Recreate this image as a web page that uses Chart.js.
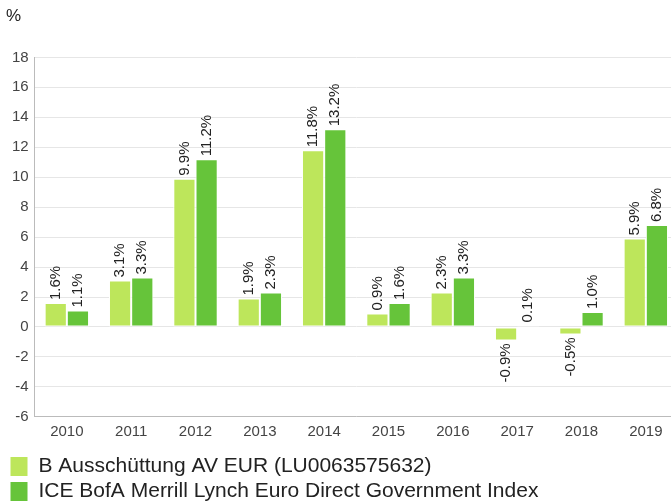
<!DOCTYPE html>
<html>
<head>
    <script src="https://cdn.jsdelivr.net/npm/chart.js"></script>
    <style>
        html, body { margin: 0; padding: 0; overflow: hidden; background: #fff; }
        .chart-container { width: 678px; height: 512px; position: relative; }
    </style>
</head>
<body>
    <div class="chart-container">
        <canvas id="perfChart"></canvas>
    </div>
    <script>
        // Jahre und Werte (in %)
        const years = ['2010', '2011', '2012', '2013', '2014', '2015', '2016', '2017', '2018', '2019'];
        const fundValues = [1.6, 3.1, 9.9, 1.9, 11.8, 0.9, 2.3, -0.9, -0.5, 5.9];
        const indexValues = [1.1, 3.3, 11.2, 2.3, 13.2, 1.6, 3.3, 0.1, 1.0, 6.8];
        const seriesNames = ['B Ausschüttung AV EUR (LU0063575632)', 'ICE BofA Merrill Lynch Euro Direct Government Index'];

        const fontFamily = '"Liberation Sans", Arial, sans-serif';

        // Beschriftung der Balken (senkrecht)
        const barLabels = {
            id: 'barLabels',
            afterDatasetsDraw(chart) {
                const ctx = chart.ctx;
                ctx.save();
                ctx.font = '15px ' + fontFamily;
                ctx.fillStyle = '#222';
                ctx.textBaseline = 'middle';
                chart.data.datasets.forEach((ds, i) => {
                    chart.getDatasetMeta(i).data.forEach((bar, j) => {
                        const v = ds.data[j];
                        const txt = v.toFixed(1) + '%';
                        ctx.save();
                        if (v >= 0) {
                            ctx.translate(bar.x, bar.y - 3);
                            ctx.rotate(-Math.PI / 2);
                            ctx.textAlign = 'left';
                        } else {
                            ctx.translate(bar.x, bar.y + 3);
                            ctx.rotate(-Math.PI / 2);
                            ctx.textAlign = 'right';
                        }
                        ctx.fillText(txt, 0, 0);
                        ctx.restore();
                    });
                });
                ctx.restore();
            }
        };

        new Chart(document.getElementById('perfChart'), {
            type: 'bar',
            data: {
                labels: years,
                datasets: [
                    {
                        label: seriesNames[0],
                        data: fundValues,
                        backgroundColor: '#bde65b',
                        borderColor: '#ffffff',
                        borderWidth: 1,
                        borderSkipped: false
                    },
                    {
                        label: seriesNames[1],
                        data: indexValues,
                        backgroundColor: '#66c43a',
                        borderColor: '#ffffff',
                        borderWidth: 1,
                        borderSkipped: false
                    }
                ]
            },
            options: {
                responsive: true,
                maintainAspectRatio: false,
                animation: false,
                categoryPercentage: 0.69,
                barPercentage: 1,
                layout: { padding: { left: 6, right: 0, top: 4, bottom: 0 } },
                plugins: {
                    title: {
                        display: true,
                        text: '%',
                        align: 'start',
                        color: '#222',
                        font: { size: 17, family: fontFamily, weight: 'normal' },
                        padding: { top: 2, bottom: 31 }
                    },
                    legend: {
                        position: 'bottom',
                        align: 'start',
                        // leerer Titel als Abstand über der Legende
                        title: { display: true, text: '', font: { size: 1 }, padding: { top: 4, bottom: 0 } },
                        labels: {
                            boxWidth: 18,
                            boxHeight: 20,
                            padding: 4,
                            color: '#222',
                            font: { size: 21, family: fontFamily }
                        }
                    },
                    tooltip: { enabled: false }
                },
                scales: {
                    x: {
                        grid: { display: false, drawTicks: false },
                        border: { color: '#bbb' },
                        ticks: {
                            color: '#444',
                            font: { size: 15, family: fontFamily },
                            padding: 6
                        }
                    },
                    y: {
                        min: -6,
                        max: 18,
                        ticks: {
                            stepSize: 2,
                            color: '#444',
                            font: { size: 15, family: fontFamily },
                            padding: 6
                        },
                        grid: { color: '#e6e6e6', drawTicks: false },
                        border: { color: '#bbb' }
                    }
                }
            },
            plugins: [barLabels]
        });
    </script>
</body>
</html>
